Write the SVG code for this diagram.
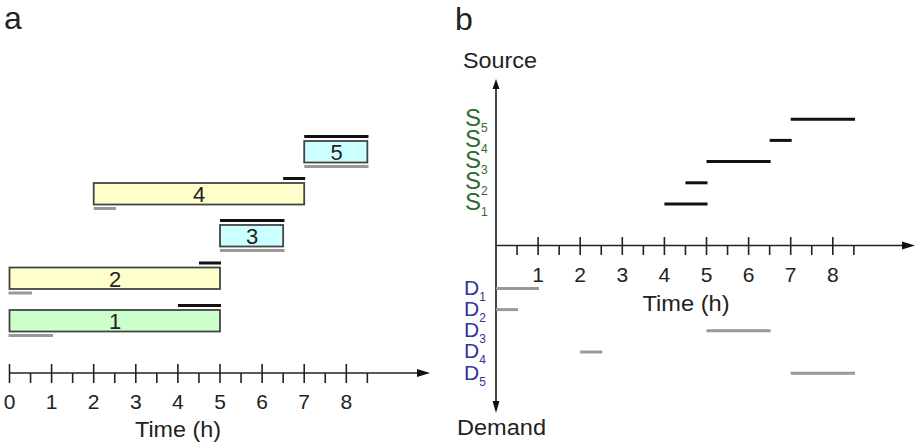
<svg xmlns="http://www.w3.org/2000/svg" width="917" height="443" viewBox="0 0 917 443">
<style>
text{font-family:"Liberation Sans",Arial,sans-serif;fill:#222}
.lbl{font-size:32px}
.num{font-size:21px;text-anchor:middle}
.ax{stroke:#222;stroke-width:1.6;fill:none}
.tk{stroke:#222;stroke-width:1.6}
.box{stroke:#444;stroke-width:1.8}
.blk{stroke:#111;stroke-width:3}
.gry{stroke:#999;stroke-width:3}
.bnum{font-size:22px;text-anchor:middle}
.s{font-size:24px;fill:#2f6a2f}
.d{font-size:21px;fill:#33339a}
.sub{font-size:12px}
</style>
<text class="lbl" x="4" y="29">a</text>
<text class="lbl" x="455" y="30">b</text>

<!-- panel a axis -->
<g id="axis-a">
<line class="ax" x1="9.5" y1="373" x2="418" y2="373"/>
<polygon points="417,369 430,373 417,377" fill="#111"/>
<g class="tk">
<line x1="9.5" y1="364" x2="9.5" y2="383"/>
<line x1="51.6" y1="364" x2="51.6" y2="383"/>
<line x1="93.7" y1="364" x2="93.7" y2="383"/>
<line x1="135.8" y1="364" x2="135.8" y2="383"/>
<line x1="177.9" y1="364" x2="177.9" y2="383"/>
<line x1="220" y1="364" x2="220" y2="383"/>
<line x1="262.1" y1="364" x2="262.1" y2="383"/>
<line x1="304.2" y1="364" x2="304.2" y2="383"/>
<line x1="346.3" y1="364" x2="346.3" y2="383"/>
<line x1="30.55" y1="373" x2="30.55" y2="383"/>
<line x1="72.65" y1="373" x2="72.65" y2="383"/>
<line x1="114.75" y1="373" x2="114.75" y2="383"/>
<line x1="156.85" y1="373" x2="156.85" y2="383"/>
<line x1="198.95" y1="373" x2="198.95" y2="383"/>
<line x1="241.05" y1="373" x2="241.05" y2="383"/>
<line x1="283.15" y1="373" x2="283.15" y2="383"/>
<line x1="325.25" y1="373" x2="325.25" y2="383"/>
<line x1="367.35" y1="373" x2="367.35" y2="383"/>
</g>
<text class="num" x="9.5" y="409">0</text>
<text class="num" x="51.6" y="409">1</text>
<text class="num" x="93.7" y="409">2</text>
<text class="num" x="135.8" y="409">3</text>
<text class="num" x="177.9" y="409">4</text>
<text class="num" x="220" y="409">5</text>
<text class="num" x="262.1" y="409">6</text>
<text class="num" x="304.2" y="409">7</text>
<text class="num" x="346.3" y="409">8</text>
<text x="178" y="437" font-size="22" text-anchor="middle" textLength="86" lengthAdjust="spacingAndGlyphs">Time (h)</text>
</g>

<g id="task5">
<rect class="box" x="304.2" y="141" width="63.15" height="21.5" fill="#ccffff"/>
<line class="blk" x1="304.2" y1="136.5" x2="368.5" y2="136.5"/>
<line class="gry" x1="304.2" y1="166.5" x2="368.5" y2="166.5"/>
<text class="bnum" x="336.5" y="160">5</text>
</g>
<g id="task4">
<rect class="box" x="93.7" y="183" width="210.5" height="21.5" fill="#ffffcc"/>
<line class="blk" x1="283.15" y1="178.5" x2="305.2" y2="178.5"/>
<line class="gry" x1="93.7" y1="208.5" x2="116" y2="208.5"/>
<text class="bnum" x="199" y="202">4</text>
</g>
<g id="task3">
<rect class="box" x="220" y="225" width="63.15" height="21.5" fill="#ccffff"/>
<line class="blk" x1="220" y1="220.5" x2="284.5" y2="220.5"/>
<line class="gry" x1="220" y1="250.5" x2="284.5" y2="250.5"/>
<text class="bnum" x="252" y="244">3</text>
</g>
<g id="task2">
<rect class="box" x="9.5" y="267.5" width="210.5" height="21.5" fill="#ffffcc"/>
<line class="blk" x1="198.95" y1="263" x2="221" y2="263"/>
<line class="gry" x1="8.5" y1="293" x2="32" y2="293"/>
<text class="bnum" x="115" y="286.5">2</text>
</g>
<g id="task1">
<rect class="box" x="9.5" y="310" width="210.5" height="21.5" fill="#ccffcc"/>
<line class="blk" x1="177.9" y1="305.5" x2="221" y2="305.5"/>
<line class="gry" x1="8.5" y1="335.5" x2="53" y2="335.5"/>
<text class="bnum" x="115" y="329">1</text>
</g>

<!-- panel b -->
<g id="axis-b">
<line x1="496" y1="88" x2="496" y2="402" stroke="#444" stroke-width="2"/>
<polygon points="492.5,89 496,79 499.5,89" fill="#111"/>
<polygon points="492.5,401 496,413 499.5,401" fill="#111"/>
<line class="ax" x1="496" y1="245.5" x2="903" y2="245.5"/>
<polygon points="902,241.5 915,245.5 902,249.5" fill="#111"/>
<g class="tk">
<line x1="538.1" y1="237" x2="538.1" y2="255"/>
<line x1="580.2" y1="237" x2="580.2" y2="255"/>
<line x1="622.3" y1="237" x2="622.3" y2="255"/>
<line x1="664.4" y1="237" x2="664.4" y2="255"/>
<line x1="706.5" y1="237" x2="706.5" y2="255"/>
<line x1="748.6" y1="237" x2="748.6" y2="255"/>
<line x1="790.7" y1="237" x2="790.7" y2="255"/>
<line x1="832.8" y1="237" x2="832.8" y2="255"/>
<line x1="517.05" y1="245.5" x2="517.05" y2="255"/>
<line x1="559.15" y1="245.5" x2="559.15" y2="255"/>
<line x1="601.25" y1="245.5" x2="601.25" y2="255"/>
<line x1="643.35" y1="245.5" x2="643.35" y2="255"/>
<line x1="685.45" y1="245.5" x2="685.45" y2="255"/>
<line x1="727.55" y1="245.5" x2="727.55" y2="255"/>
<line x1="769.65" y1="245.5" x2="769.65" y2="255"/>
<line x1="811.75" y1="245.5" x2="811.75" y2="255"/>
<line x1="853.85" y1="245.5" x2="853.85" y2="255"/>
</g>
<text class="num" x="538.1" y="281.5">1</text>
<text class="num" x="580.2" y="281.5">2</text>
<text class="num" x="622.3" y="281.5">3</text>
<text class="num" x="664.4" y="281.5">4</text>
<text class="num" x="706.5" y="281.5">5</text>
<text class="num" x="748.6" y="281.5">6</text>
<text class="num" x="790.7" y="281.5">7</text>
<text class="num" x="832.8" y="281.5">8</text>
<text x="686" y="310.5" font-size="22" text-anchor="middle" textLength="87" lengthAdjust="spacingAndGlyphs">Time (h)</text>
<text x="463" y="68" font-size="22" textLength="74" lengthAdjust="spacingAndGlyphs">Source</text>
<text x="457" y="435" font-size="22" textLength="89" lengthAdjust="spacingAndGlyphs">Demand</text>
</g>

<g id="sources">
<line class="blk" x1="664.4" y1="204" x2="707.5" y2="204"/>
<line class="blk" x1="685.45" y1="182.8" x2="707.5" y2="182.8"/>
<line class="blk" x1="706.5" y1="161.6" x2="770.6" y2="161.6"/>
<line class="blk" x1="769.65" y1="140.4" x2="791.7" y2="140.4"/>
<line class="blk" x1="790.7" y1="119.2" x2="855" y2="119.2"/>
<text class="s" x="465" y="210">S<tspan class="sub" dy="6">1</tspan></text>
<text class="s" x="465" y="189">S<tspan class="sub" dy="6">2</tspan></text>
<text class="s" x="465" y="168">S<tspan class="sub" dy="6">3</tspan></text>
<text class="s" x="465" y="147">S<tspan class="sub" dy="6">4</tspan></text>
<text class="s" x="465" y="126">S<tspan class="sub" dy="6">5</tspan></text>
</g>

<g id="demands">
<line class="gry" x1="496" y1="288.4" x2="539" y2="288.4"/>
<line class="gry" x1="496" y1="309.6" x2="518" y2="309.6"/>
<line class="gry" x1="706.5" y1="330.8" x2="770.6" y2="330.8"/>
<line class="gry" x1="580.2" y1="352" x2="602.2" y2="352"/>
<line class="gry" x1="790.7" y1="373.2" x2="855" y2="373.2"/>
<text class="d" x="464" y="295">D<tspan class="sub" dy="6">1</tspan></text>
<text class="d" x="464" y="316">D<tspan class="sub" dy="6">2</tspan></text>
<text class="d" x="464" y="337">D<tspan class="sub" dy="6">3</tspan></text>
<text class="d" x="464" y="358">D<tspan class="sub" dy="6">4</tspan></text>
<text class="d" x="464" y="379.5">D<tspan class="sub" dy="6">5</tspan></text>
</g>
</svg>
